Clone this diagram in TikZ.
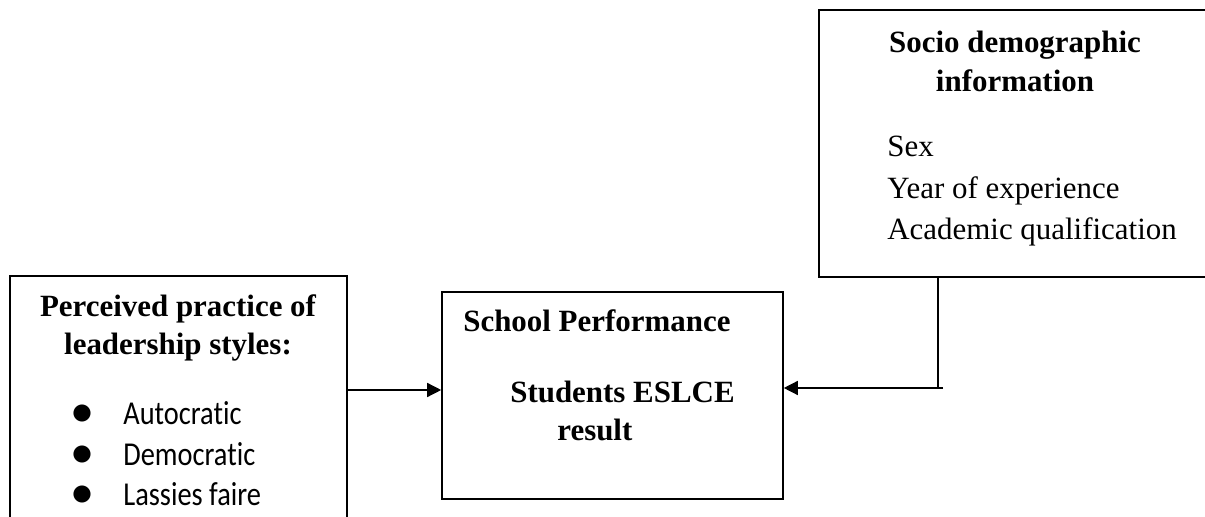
\documentclass[tikz,border=0pt]{standalone}
\usepackage{fontspec}
\setmainfont{Liberation Serif}
\newfontfamily\calibrifont[FakeStretch=0.85,Ligatures=NoCommon]{Carlito}
\usetikzlibrary{positioning,arrows.meta}

\begin{document}
\begin{tikzpicture}[
    box/.style={
        rectangle,
        draw,
        line width=0.9pt,
        inner sep=0pt
    },
    heading/.style={inner sep=0pt, align=center, font=\fontsize{17.6}{22.1}\selectfont\bfseries},
    boldtext/.style={inner sep=0pt, align=left, font=\fontsize{17.6}{21.5}\selectfont\bfseries},
    itemlist/.style={inner sep=0pt, align=left, font=\fontsize{17.6}{23.5}\selectfont},
    bulletlist/.style={inner sep=0pt, align=left, font=\calibrifont\fontsize{19}{23.2}\selectfont},
    arrow/.style={-{Triangle[length=0.28cm,width=0.28cm]}, line width=0.8pt}
]
    \useasboundingbox (0,0) rectangle (24.1,10.34);
    \clip (0,0) rectangle (24.1,10.34);

    % Leadership styles (runs off the bottom edge)
    \node[box, minimum width=6.74cm, minimum height=6cm] (styles) at (3.57,1.82) {};
    \node[heading, anchor=north] (stylestitle) at (3.56,4.46) {
        Perceived practice of\\
        leadership styles:
    };
    \node[bulletlist, anchor=north west] (styleslist) at (1.42,2.32) {
        \makebox[1.04cm][l]{\scalebox{1.45}{$\bullet$}}Autocratic\\
        \makebox[1.04cm][l]{\scalebox{1.45}{$\bullet$}}Democratic\\
        \makebox[1.04cm][l]{\scalebox{1.45}{$\bullet$}}Lassies faire
    };

    % School performance
    \node[box, minimum width=6.82cm, minimum height=4.14cm] (perf) at (12.25,2.43) {};
    \node[boldtext, anchor=base west] (perftitle) at (9.26,3.70) {School Performance};
    \node[boldtext, anchor=north west] (perfresult) at (10.2,2.72) {
        Students ESLCE\\
        \hspace*{0.94cm}result
    };

    % Socio demographic information (runs off the right edge)
    \node[box, draw=none, minimum width=9.6cm, minimum height=5.3cm] (socio) at (21.2,7.47) {};
    \draw[line width=0.9pt] (socio.north east) -- (socio.north west) -- (socio.south west) -- (socio.south east);
    \node[heading, anchor=north] (sociotitle) at (20.3,9.72) {
        Socio demographic\\
        information
    };
    \node[itemlist, anchor=north west] (sociolist) at (17.74,7.62) {
        Sex\\
        Year of experience\\
        Academic qualification
    };

    % Connectors
    \coordinate (leftjoin) at (6.94,2.54);
    \coordinate (elbow) at (18.76,2.58);
    \draw[arrow] (styles.east |- leftjoin) -- (perf.west |- leftjoin);
    \draw[line width=0.8pt] (socio.south -| elbow) -- (elbow);
    \draw[arrow] ([xshift=0.1cm]elbow) -- (perf.east |- elbow);
\end{tikzpicture}
\end{document}
